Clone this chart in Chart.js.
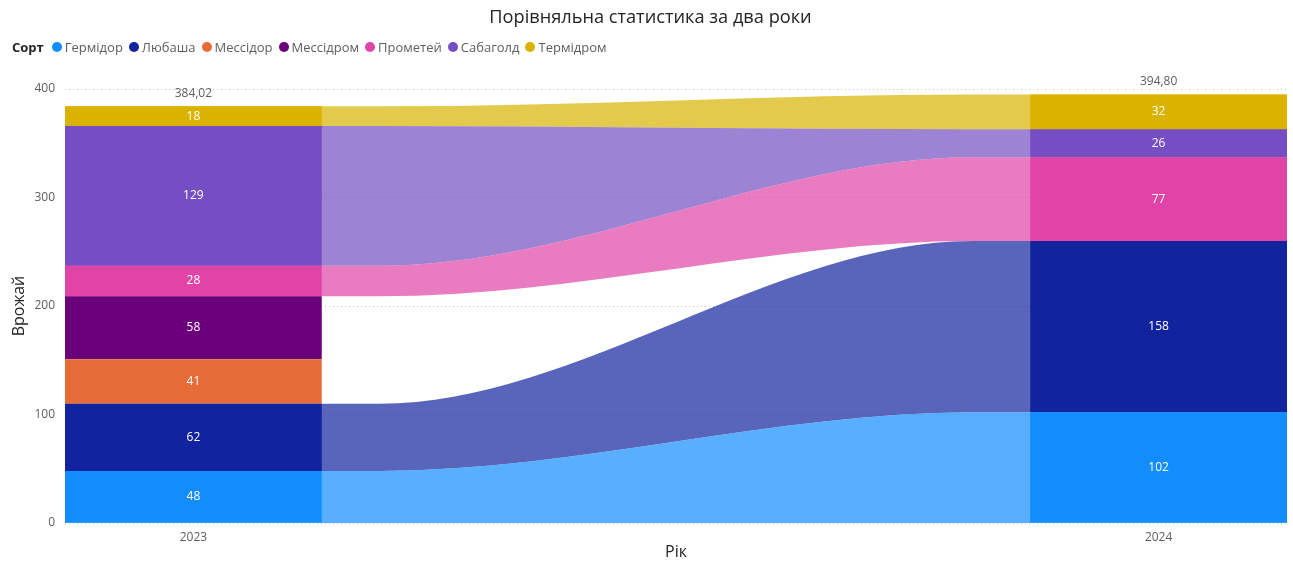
<!DOCTYPE html>
<html>
<head>
<meta charset="utf-8">
<script src="https://cdn.jsdelivr.net/npm/chart.js@4/dist/chart.umd.min.js"></script>
<style>
  html, body { margin: 0; padding: 0; background: #fff; }
  body { width: 1293px; height: 562px; position: relative; overflow: hidden; font-family: "Open Sans", sans-serif; }
  #title { position: absolute; top: 4px; left: 0; width: 1301px; text-align: center; font-size: 18.2px; color: #252423; }
  #legend { position: absolute; top: 38px; left: 12px; font-size: 13px; color: #605E5C; display: flex; align-items: center; white-space: nowrap; }
  #legend b { color: #252423; margin-right: 8px; font-weight: 700; }
  #legend .item { display: flex; align-items: center; margin-right: 6px; }
  #legend i { display: inline-block; width: 10px; height: 10px; border-radius: 50%; margin-right: 3px; }
  #wrap { position: absolute; top: 0; left: 0; width: 1293px; height: 562px; }
</style>
</head>
<body>
<div id="wrap"><canvas id="ribbonChart" width="1293" height="562"></canvas></div>
<div id="title">Порівняльна статистика за два роки</div>
<div id="legend"><b>Сорт</b></div>
<script>
// Data
const years = ['2023', '2024'];
const varieties = ['Гермідор', 'Любаша', 'Мессідор', 'Мессідром', 'Прометей', 'Сабаголд', 'Термідром'];
const harvest2023 = [48, 62, 41, 58, 28, 129, 18];
const harvest2024 = [102, 158, 0, 0, 77, 26, 32];
const totals = [384.02, 394.80];
const colors = ['#118DFF', '#12239E', '#E66C37', '#6B007B', '#E044A7', '#744EC2', '#D9B300'];

const barFrac = 0.266;      // bar width as a share of the distance between years
const half = barFrac / 2;
const hold = 0.06;          // ribbons stay level for a bit after leaving a bar

function fade(hex, a) {
    const n = parseInt(hex.slice(1), 16);
    return `rgba(${n >> 16}, ${(n >> 8) & 255}, ${n & 255}, ${a})`;
}

// Build the legend
const legend = document.getElementById('legend');
varieties.forEach((name, i) => {
    const item = document.createElement('span');
    item.className = 'item';
    item.innerHTML = `<i style="background:${colors[i]}"></i>${name}`;
    legend.appendChild(item);
});

// Ribbons between the two bars (stacked lines, filled to the one below)
const ribbonSets = varieties.map((name, i) => {
    const a = harvest2023[i];
    const b = harvest2024[i];
    const shown = a > 0 && b > 0;
    return {
        type: 'line',
        label: name,
        stack: 'ribbon',
        data: [
            { x: -half, y: a }, { x: half, y: a }, { x: half + hold, y: a },
            { x: 1 - half - hold, y: b }, { x: 1 - half, y: b }, { x: 1 + half, y: b }
        ],
        backgroundColor: shown ? fade(colors[i], 0.7) : 'rgba(0,0,0,0)',
        borderColor: 'rgba(0,0,0,0)',
        borderWidth: 0,
        pointRadius: 0,
        cubicInterpolationMode: 'monotone',
        fill: i === 0 ? 'origin' : '-1',
        order: 2
    };
});

// Stacked bars for each year
const barSets = varieties.map((name, i) => ({
    type: 'bar',
    label: name,
    stack: 'bar',
    data: [{ x: 0, y: harvest2023[i] }, { x: 1, y: harvest2024[i] }],
    backgroundColor: colors[i],
    borderWidth: 0,
    barPercentage: 1,
    categoryPercentage: barFrac,
    order: 1
}));

// Values inside the bars and totals above them
const labelPlugin = {
    id: 'barLabels',
    afterDatasetsDraw(chart) {
        const ctx = chart.ctx;
        ctx.save();
        ctx.textAlign = 'center';
        ctx.textBaseline = 'middle';
        ctx.font = '12px "Open Sans"';
        ctx.fillStyle = '#fff';
        const tops = [Infinity, Infinity];
        const xs = [0, 0];
        chart.data.datasets.forEach((ds, di) => {
            if (ds.type !== 'bar') return;
            const meta = chart.getDatasetMeta(di);
            meta.data.forEach((el, j) => {
                const v = ds.data[j].y;
                xs[j] = el.x;
                tops[j] = Math.min(tops[j], el.y);
                if (v > 0) ctx.fillText(String(v), el.x, (el.y + el.base) / 2);
            });
        });
        ctx.fillStyle = '#605E5C';
        totals.forEach((t, j) => {
            ctx.fillText(t.toFixed(2).replace('.', ','), xs[j], tops[j] - 13);
        });
        ctx.restore();
    }
};

new Chart(document.getElementById('ribbonChart'), {
    type: 'bar',
    data: { datasets: [...ribbonSets, ...barSets] },
    options: {
        responsive: false,
        animation: false,
        layout: { padding: { top: 89, right: 6, left: 0, bottom: 0 } },
        plugins: {
            legend: { display: false },
            tooltip: { enabled: false }
        },
        scales: {
            x: {
                type: 'linear',
                stacked: true,
                offset: false,
                min: -half,
                max: 1 + half,
                afterBuildTicks: (scale) => { scale.ticks = [{ value: 0 }, { value: 1 }]; },
                afterFit: (scale) => { scale.height = 39; },
                grid: { display: false, offset: false, drawTicks: false },
                border: { display: false },
                ticks: {
                    padding: 7,
                    color: '#605E5C',
                    font: { family: 'Open Sans', size: 12 },
                    callback: (v) => years[v]
                },
                title: {
                    display: true,
                    text: 'Рік',
                    color: '#252423',
                    font: { family: 'Open Sans', size: 16 },
                    padding: { top: 0, bottom: 0 }
                }
            },
            y: {
                stacked: true,
                min: 0,
                max: 400,
                afterFit: (scale) => { scale.width = 65; },
                grid: { color: '#C8C6C4', drawTicks: false, lineWidth: 1 },
                border: { display: false, dash: [1, 3] },
                ticks: {
                    stepSize: 100,
                    padding: 10,
                    color: '#605E5C',
                    font: { family: 'Open Sans', size: 12 }
                },
                title: {
                    display: true,
                    text: 'Врожай',
                    color: '#252423',
                    font: { family: 'Open Sans', size: 16 },
                    padding: { top: 10, bottom: 0 }
                }
            }
        }
    },
    plugins: [labelPlugin]
});
</script>
</body>
</html>
